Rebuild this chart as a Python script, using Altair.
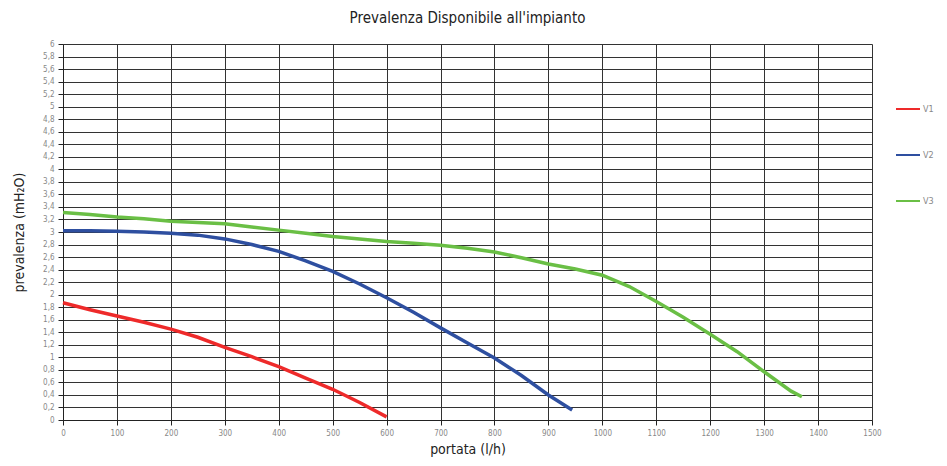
import altair as alt
import pandas as pd

flow_v1 = [0, 50, 100, 150, 200, 250, 300, 350, 400, 450, 500, 550, 600]
head_v1 = [1.87, 1.76, 1.66, 1.56, 1.45, 1.32, 1.16, 1.01, 0.85, 0.67, 0.49, 0.28, 0.05]

flow_v2 = [0, 50, 100, 150, 200, 250, 300, 350, 400, 450, 500, 550, 600, 650, 700, 750, 800, 850, 900, 944]
head_v2 = [3.02, 3.02, 3.01, 3.00, 2.98, 2.95, 2.89, 2.80, 2.69, 2.54, 2.37, 2.17, 1.95, 1.72, 1.47, 1.23, 0.99, 0.71, 0.40, 0.16]

flow_v3 = [0, 50, 100, 150, 200, 250, 300, 350, 400, 450, 500, 550, 600, 650, 700, 750, 800, 850, 900, 950,
           1000, 1050, 1100, 1150, 1200, 1250, 1300, 1350, 1370]
head_v3 = [3.31, 3.28, 3.24, 3.21, 3.17, 3.15, 3.13, 3.08, 3.03, 2.98, 2.93, 2.89, 2.85, 2.82, 2.79, 2.74, 2.68,
           2.59, 2.49, 2.41, 2.31, 2.13, 1.89, 1.64, 1.37, 1.09, 0.77, 0.46, 0.37]

series_names = ["V1", "V2", "V3"]
series_colors = ["#EE2A2A", "#2E4FA0", "#6ABF45"]

x_ticks = list(range(0, 1501, 100))
y_ticks = [round(i * 0.2, 1) for i in range(31)]

rows = []
for name, xs, ys in zip(series_names, [flow_v1, flow_v2, flow_v3], [head_v1, head_v2, head_v3]):
    for i, (a, b) in enumerate(zip(xs, ys)):
        rows.append({"serie": name, "portata": a, "prevalenza": b, "ord": i})
df = pd.DataFrame(rows)

FONT = "Liberation Sans Narrow, DejaVu Sans Condensed, Arial Narrow, sans-serif"

chart = alt.Chart(df).mark_line(strokeWidth=3.5, strokeCap="butt").encode(
    x=alt.X("portata:Q", scale=alt.Scale(domain=[0, 1500], nice=False),
            axis=alt.Axis(values=x_ticks, title="portata (l/h)", grid=True, labelFlush=False,
                          labelExpr="replace(format(datum.value, '.2~f'), '.', ',')")),
    y=alt.Y("prevalenza:Q", scale=alt.Scale(domain=[0, 6], nice=False),
            axis=alt.Axis(values=y_ticks, title="prevalenza (mH₂O)", grid=True, labelFlush=False,
                          labelExpr="replace(format(datum.value, '.2~f'), '.', ',')")),
    color=alt.Color("serie:N", scale=alt.Scale(domain=series_names, range=series_colors),
                    legend=alt.Legend(title=None, orient="none", legendX=832, legendY=52,
                                      symbolType="stroke", symbolSize=576, symbolStrokeWidth=2,
                                      rowPadding=28, labelFontSize=9, labelColor="#888888",
                                      labelFont=FONT, labelOffset=2)),
    order="ord:Q",
).properties(
    width=809, height=376,
    title=alt.TitleParams("Prevalenza Disponibile all'impianto", fontSize=15, font=FONT,
                          fontWeight="normal", color="#222222", offset=14),
    padding={"left": 55, "top": 36, "right": 67, "bottom": 38},
    autosize="none",
).configure_axis(
    gridColor="#333333", gridOpacity=1, gridWidth=1,
    domainColor="#222222", tickColor="#222222", tickSize=5,
    labelFont=FONT, labelFontSize=8, labelColor="#888888", labelPadding=4,
    titleFont=FONT, titleFontSize=14, titleFontWeight="normal", titleColor="#222222",
).configure_axisY(titlePadding=16).configure_axisX(titlePadding=5).configure_view(
    stroke=None
)

chart.save("out.html", embed_options={"renderer": "svg", "actions": False})
